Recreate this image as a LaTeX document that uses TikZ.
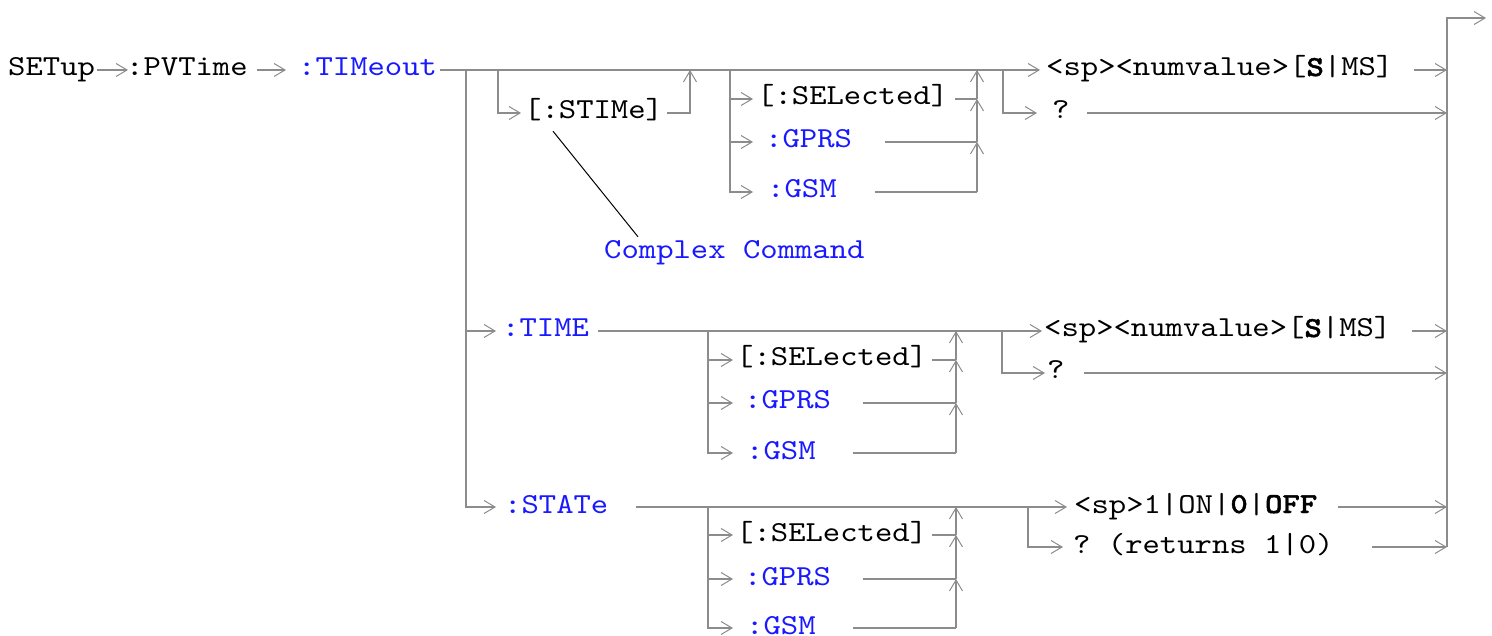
\documentclass[tikz,border=0pt]{standalone}
\usepackage{fontspec}
\setmonofont{lmmono10-regular.otf}[FakeStretch=1.14,BoldFont=lmmonolt10-bold.otf,BoldFeatures={FakeBold=1.5}]
\usetikzlibrary{arrows.meta}
\definecolor{linegray}{RGB}{140,140,140}
\definecolor{cmdblue}{RGB}{25,25,255}
\begin{document}
\begin{tikzpicture}[
  x=1pt,y=-1pt,
  txt/.style={anchor=west,inner sep=0pt,text height=18pt,text depth=6pt,
    font=\ttfamily\fontsize{29}{31}\selectfont},
  blu/.style={text=cmdblue},
  ln/.style={draw=linegray,line width=2pt},
  ar/.style={-{Straight Barb[length=11pt,width=13pt,line width=1pt]}},
  lead/.style={draw=black,line width=1pt}
]
  \useasboundingbox (0,0) rectangle (1492,636);

  \node[txt] (setup) at (8,70) {SETup};
  \node[txt] (pvtime) at (126,70) {:PVTime};
  \node[txt,blu] (timeout) at (298,70) {:TIMeout};
  \node[txt] (stime) at (524,113) {[:STIMe]};
  \node[txt] (sela) at (757,99) {[:SELected]};
  \node[txt,blu] (gprsa) at (765,142) {:GPRS};
  \node[txt,blu] (gsma) at (767,192) {:GSM};
  \node[txt] (numa) at (1046,70) {<sp><numvalue>[\textbf{S}|MS]};
  \node[txt] (qa) at (1052,113) {?};
  \node[txt,blu] (cplx) at (604,253) {Complex Command};
  \node[txt,blu] (time) at (502,331) {:TIME};
  \node[txt] (selb) at (736,360) {[:SELected]};
  \node[txt,blu] (gprsb) at (744,403) {:GPRS};
  \node[txt,blu] (gsmb) at (746,453) {:GSM};
  \node[txt] (numb) at (1044,331) {<sp><numvalue>[\textbf{S}|MS]};
  \node[txt] (qb) at (1047,373) {?};
  \node[txt,blu] (state) at (504,507) {:STATe};
  \node[txt] (selc) at (736,535) {[:SELected]};
  \node[txt,blu] (gprsc) at (744,579) {:GPRS};
  \node[txt,blu] (gsmc) at (746,628) {:GSM};
  \node[txt] (onoff) at (1074,507) {<sp>1|ON|\textbf{0}|\textbf{OFF}};
  \node[txt] (qret) at (1073,547) {? (returns 1|0)};

  \coordinate (ja) at (466,70);
  \coordinate (jb) at (498,70);
  \coordinate (jc) at (690,70);
  \coordinate (jd) at (730,70);
  \coordinate (je) at (977,70);
  \coordinate (jf) at (1003,70);
  \coordinate (ta) at (753,70);
  \coordinate (jg) at (708,331);
  \coordinate (jh) at (956,331);
  \coordinate (ji) at (1002,331);
  \coordinate (tb) at (733,331);
  \coordinate (jk) at (708,507);
  \coordinate (jl) at (956,507);
  \coordinate (jm) at (1028,507);
  \coordinate (ex) at (1447,18);
  \coordinate (out) at (1486,18);

  \draw[ln,ar] ([xshift=2pt]setup.east) -- ([xshift=2pt]pvtime.west);
  \draw[ln,ar] ([xshift=9pt]pvtime.east) -- ([xshift=-12pt]timeout.west);
  \draw[ln,ar] ([xshift=3pt]timeout.east) -- ([xshift=-6pt]numa.west);
  \draw[ln,ar] (ja) |- ([xshift=-8pt]state.west);
  \draw[ln,ar] (time -| ja) -- ([xshift=-6pt]time.west);

  \draw[ln,ar] (jb) |- ([xshift=-3pt]stime.west);
  \draw[ln,ar] ([xshift=4pt]stime.east) -| (jc);
  \draw[lead] ([xshift=29pt,yshift=-6pt]stime.south west) -- ([xshift=34pt,yshift=4pt]cplx.north west);

  \draw[ln,ar] (jd) |- (gsma.west -| ta);
  \draw[ln,ar] (sela -| jd) -- (sela.west -| ta);
  \draw[ln,ar] (gprsa -| jd) -- (gprsa.west -| ta);
  \draw[ln] ([xshift=7pt]sela.east) -- (sela -| je);
  \draw[ln] ([xshift=33pt]gprsa.east) -- (gprsa -| je);
  \draw[ln] ([xshift=38pt]gsma.east) -- (gsma -| je);
  \draw[ln,ar] (gsma -| je) -- (gprsa -| je);
  \draw[ln,ar] (gprsa -| je) -- (sela -| je);
  \draw[ln,ar] (sela -| je) -- (je);

  \draw[ln,ar] (jf) |- ([xshift=-15pt]qa.west);
  \draw[ln,ar] ([xshift=20pt]numa.east) -- (numa -| ex);
  \draw[ln,ar] ([xshift=17pt]qa.east) -- (qa -| ex);
  \draw[ln,ar] (qret -| ex) -- (ex) -- (out);

  \draw[ln,ar] ([xshift=9pt]time.east) -- ([xshift=-2pt]numb.west);
  \draw[ln,ar] (jg) |- (gsmb.west -| tb);
  \draw[ln,ar] (selb -| jg) -- (selb.west -| tb);
  \draw[ln,ar] (gprsb -| jg) -- (gprsb.west -| tb);
  \draw[ln] ([xshift=5pt]selb.east) -- (selb -| jh);
  \draw[ln] ([xshift=32pt]gprsb.east) -- (gprsb -| jh);
  \draw[ln] ([xshift=37pt]gsmb.east) -- (gsmb -| jh);
  \draw[ln,ar] (gsmb -| jh) -- (gprsb -| jh);
  \draw[ln,ar] (gprsb -| jh) -- (selb -| jh);
  \draw[ln,ar] (selb -| jh) -- (jh);
  \draw[ln,ar] (ji) |- ([xshift=-2pt]qb.west);
  \draw[ln,ar] ([xshift=20pt]numb.east) -- (numb -| ex);
  \draw[ln,ar] ([xshift=19pt]qb.east) -- (qb -| ex);

  \draw[ln,ar] ([xshift=27pt]state.east) -- ([xshift=-7pt]onoff.west);
  \draw[ln,ar] (jk) |- (gsmc.west -| tb);
  \draw[ln,ar] (selc -| jk) -- (selc.west -| tb);
  \draw[ln,ar] (gprsc -| jk) -- (gprsc.west -| tb);
  \draw[ln] ([xshift=5pt]selc.east) -- (selc -| jl);
  \draw[ln] ([xshift=32pt]gprsc.east) -- (gprsc -| jl);
  \draw[ln] ([xshift=37pt]gsmc.east) -- (gsmc -| jl);
  \draw[ln,ar] (gsmc -| jl) -- (gprsc -| jl);
  \draw[ln,ar] (gprsc -| jl) -- (selc -| jl);
  \draw[ln,ar] (selc -| jl) -- (jl);
  \draw[ln,ar] (jm) |- ([xshift=-10pt]qret.west);
  \draw[ln,ar] ([xshift=21pt]onoff.east) -- (onoff -| ex);
  \draw[ln,ar] ([xshift=38pt]qret.east) -- (qret -| ex);
\end{tikzpicture}
\end{document}
